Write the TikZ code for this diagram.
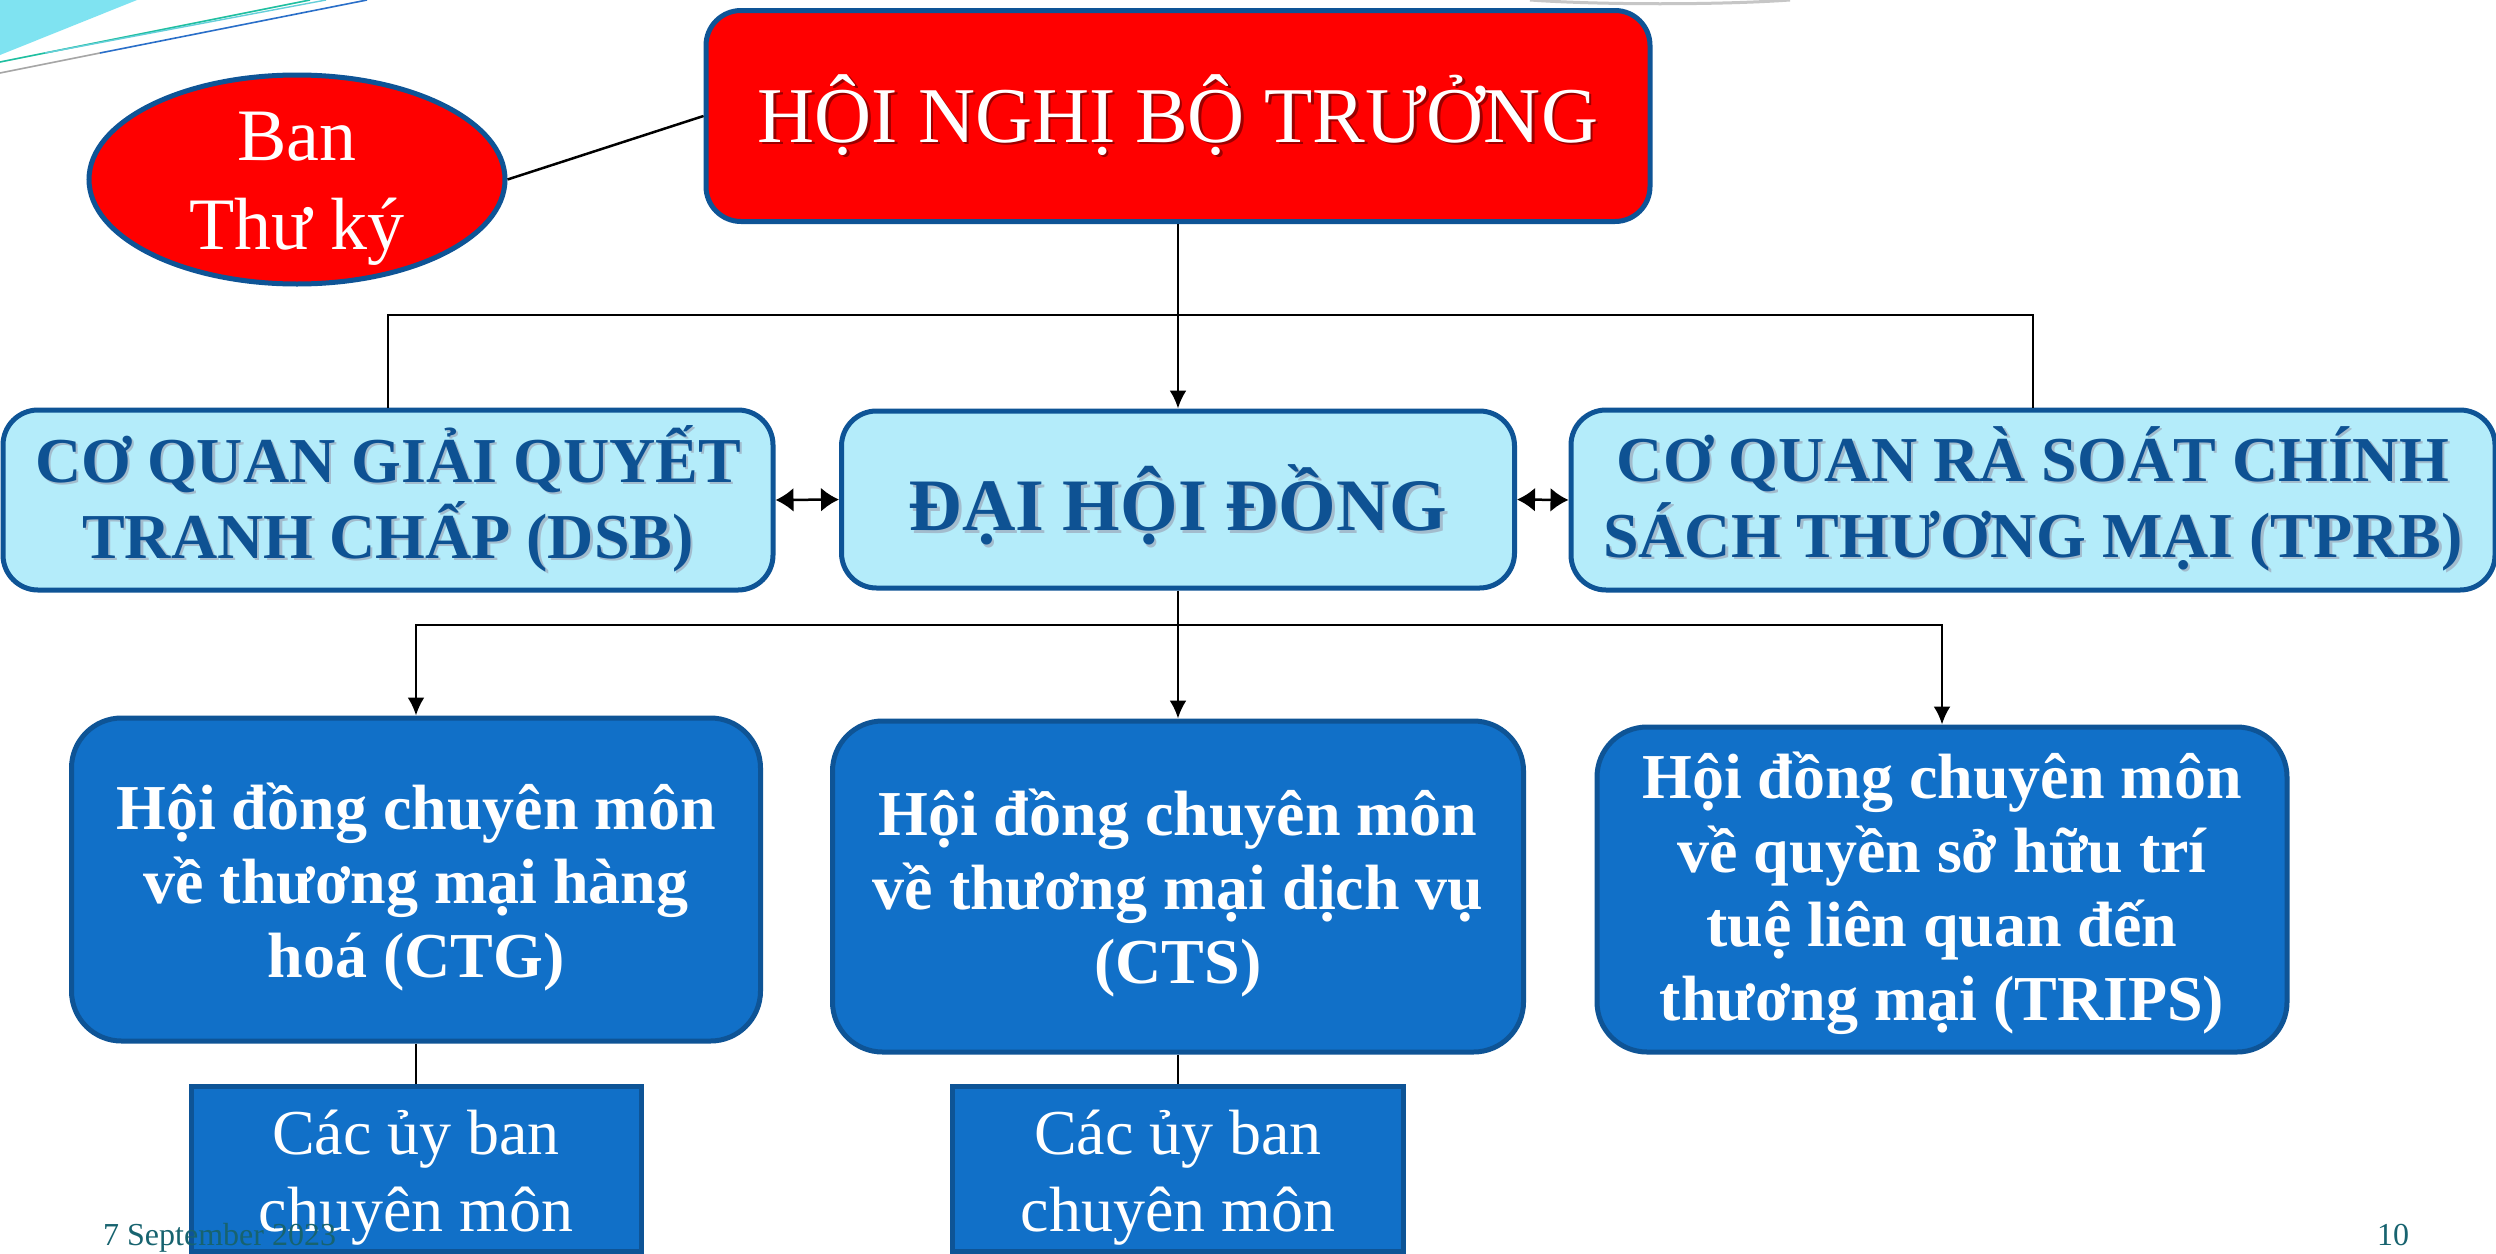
\documentclass[tikz,border=0pt]{standalone}
\usepackage{fontspec}
\setmainfont{Liberation Serif}
\usetikzlibrary{arrows.meta,shapes.geometric}
\definecolor{boxborder}{HTML}{0E5496}
\definecolor{lightfill}{HTML}{B4ECFA}
\definecolor{bluefill}{HTML}{1170C8}
\definecolor{navytext}{HTML}{0E5293}
\definecolor{redfill}{HTML}{FF0000}
\definecolor{footercol}{HTML}{17636F}
\definecolor{navyshadow}{HTML}{A3BCCD}
\definecolor{redshadow}{HTML}{9A0000}
\definecolor{decocyan}{HTML}{7FE3F1}
\definecolor{decogreen}{HTML}{1FBFA0}
\definecolor{decoblue}{HTML}{2A6FC9}
\newcommand\shd[2]{\leavevmode\rlap{\kern2.5pt\raisebox{-2.5pt}{\textcolor{#1}{#2}}}#2}
\begin{document}
\begin{tikzpicture}[x=1pt,y=-1pt,
  box/.style={draw=boxborder, line width=5pt, rounded corners=35pt, inner sep=0pt, align=center},
  bluebox/.style={box, fill=bluefill, rounded corners=50pt, text=white,
     font=\bfseries\fontsize{64}{74}\selectfont},
  lightbox/.style={box, fill=lightfill, text=navytext,
     font=\bfseries\fontsize{64}{76}\selectfont},
  subbox/.style={draw=boxborder, line width=5pt, fill=bluefill, inner sep=0pt, align=center,
     text=white, font=\fontsize{64}{77}\selectfont},
  conn/.style={line width=2.5pt, black},
  arr/.style={conn, -{Latex[length=18pt,width=17pt]}},
  darr/.style={conn, {Latex[length=18pt,width=24pt]}-{Latex[length=18pt,width=24pt]}},
  foot/.style={anchor=base west, inner sep=0pt, text=footercol, font=\fontsize{32}{38}\selectfont}
]
\useasboundingbox (0,0) rectangle (2496,1253);
\clip (0,0) rectangle (2496,1253);
\fill[white] (0,0) rectangle (2496,1253);

% top decorations
\fill[decocyan] (0,0) -- (137,0) -- (0,55) -- cycle;
\draw[decogreen, line width=1.6pt] (0,62) -- (310,0);
\draw[decocyan!80!teal, line width=1.4pt] (45,53) -- (326,0);
\draw[gray!70, line width=1.6pt] (0,73) -- (100,53);
\draw[decoblue, line width=1.6pt] (100,53) -- (367,0);
\draw[gray!45, line width=3pt] (1530,0) .. controls (1600,5) and (1720,5) .. (1790,0);

% nodes
\node[box, fill=redfill, minimum width=944pt, minimum height=211pt, text=white,
      font=\fontsize{79}{95}\selectfont] (hnbt) at (1178,116)
      {\shd{redshadow}{HỘI NGHỊ BỘ TRƯỞNG}};
\node[ellipse, draw=boxborder, line width=5pt, fill=redfill, minimum width=416pt,
      minimum height=209pt, inner sep=0pt] (ban) at (297,179.5) {};
\node[inner sep=0pt, align=center, text=white, font=\fontsize{74}{89}\selectfont]
      (bantext) at (297,189) {Ban\\Thư ký};
\node[lightbox, minimum width=770pt, minimum height=180pt] (dsb) at (388,500)
      {\shd{navyshadow}{CƠ QUAN GIẢI QUYẾT}\\\shd{navyshadow}{TRANH CHẤP (DSB)}};
\node[lightbox, minimum width=673pt, minimum height=177pt,
      font=\bfseries\fontsize{74}{86}\selectfont] (dhd) at (1178,499.5)
      {\rule{0pt}{80pt}\shd{navyshadow}{ĐẠI HỘI ĐỒNG}};
\node[lightbox, minimum width=924pt, minimum height=180pt] (tprb) at (2033,500)
      {\shd{navyshadow}{CƠ QUAN RÀ SOÁT CHÍNH}\\\shd{navyshadow}{SÁCH THƯƠNG MẠI (TPRB)}};
\node[bluebox, minimum width=689pt, minimum height=323pt] (ctg) at (416,879.5)
      {\rule{0pt}{62pt}Hội đồng chuyên môn\\về thương mại hàng\\hoá (CTG)};
\node[bluebox, minimum width=691pt, minimum height=331pt] (cts) at (1178,886.5)
      {\rule{0pt}{59pt}Hội đồng chuyên môn\\về thương mại dịch vụ\\(CTS)};
\node[bluebox, minimum width=690pt, minimum height=325pt] (trips) at (1942,889.5)
      {\rule{0pt}{55pt}Hội đồng chuyên môn\\về quyền sở hữu trí\\tuệ liên quan đến\\thương mại (TRIPS)};
\node[subbox, minimum width=450pt, minimum height=165pt] (sub1) at (416,1168.5)
      {\rule{0pt}{62pt}Các ủy ban\\chuyên môn};
\node[subbox, minimum width=451pt, minimum height=165pt] (sub2) at (1178,1168.5)
      {\rule{0pt}{62pt}Các ủy ban\\chuyên môn};

% connectors
\coordinate (bus1) at (1178,315);
\coordinate (bus2) at (1178,625);
\draw[conn] (ban.east) -- (hnbt.west);
\draw[arr] (hnbt.south) -- (dhd.north);
\draw[conn] (dsb.north) |- (bus1) -| (tprb.north);
\draw[darr] (dsb.east) -- (dhd.west);
\draw[darr] (dhd.east) -- (tprb.west);
\draw[arr] (dhd.south) -- (cts.north);
\draw[arr] (bus2) -| (ctg.north);
\draw[arr] (bus2) -| (trips.north);
\draw[conn] (ctg.south) -- (sub1.north);
\draw[conn] (cts.south) -- (sub2.north);

% footer
\node[foot] (date) at (103,1245) {7 September 2023};
\node[foot] (pnum) at (2377,1245) {10};
\end{tikzpicture}
\end{document}
